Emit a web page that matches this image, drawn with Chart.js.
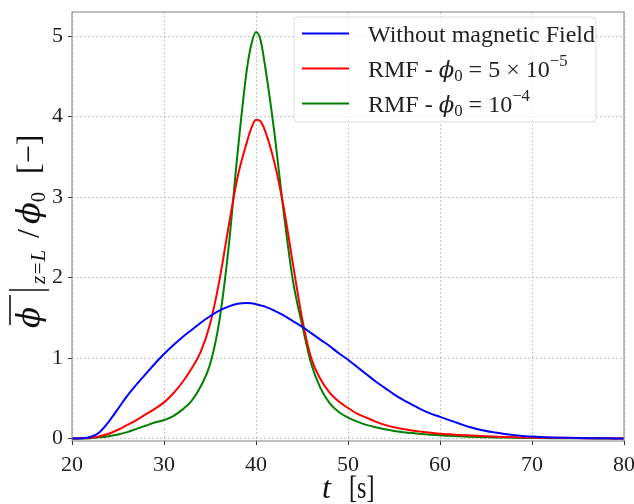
<!DOCTYPE html>
<html>
<head>
<meta charset="utf-8">
<script src="https://cdn.jsdelivr.net/npm/chart.js@4.4.0/dist/chart.umd.min.js"></script>
<style>
  html, body { margin: 0; padding: 0; background: #fff; }
</style>
</head>
<body>
<canvas id="chart" width="634" height="504"></canvas>
<script>
// time axis (s), finer around the peak
const times = [20, 21, 22, 23, 24, 25, 26, 27, 28, 29, 30, 31, 32, 33, 34, 35, 36, 37, 38, 39, 39.5, 40, 40.5,
    41, 42, 43, 44, 45, 46, 47, 48, 49, 50, 51, 52, 53, 54, 55, 56, 57, 58, 59, 60,
    61, 62, 63, 64, 65, 66, 67, 68, 69, 70, 72, 74, 76, 78, 80];

const withoutField = [0, 0.003, 0.02, 0.08, 0.21, 0.37, 0.53, 0.67, 0.8, 0.93, 1.05, 1.16, 1.26, 1.35, 1.44, 1.52, 1.59, 1.64, 1.675, 1.685, 1.682, 1.67, 1.655,
    1.64, 1.59, 1.53, 1.46, 1.39, 1.31, 1.23, 1.15, 1.06, 0.98, 0.89, 0.8, 0.71, 0.63, 0.55, 0.48, 0.42, 0.36, 0.31, 0.27,
    0.23, 0.19, 0.15, 0.12, 0.095, 0.075, 0.057, 0.043, 0.033, 0.025, 0.015, 0.009, 0.005, 0.003, 0.002];

const rmfLow = [0, 0.003, 0.01, 0.03, 0.06, 0.11, 0.17, 0.23, 0.3, 0.37, 0.45, 0.56, 0.7, 0.87, 1.08, 1.42, 1.95, 2.62, 3.25, 3.68, 3.86, 3.96, 3.94,
    3.82, 3.43, 2.88, 2.18, 1.5, 1.0, 0.74, 0.57, 0.46, 0.38, 0.31, 0.26, 0.21, 0.17, 0.14, 0.12, 0.1, 0.085, 0.072, 0.06,
    0.053, 0.046, 0.04, 0.034, 0.029, 0.025, 0.021, 0.018, 0.015, 0.013, 0.009, 0.006, 0.004, 0.003, 0.002];

const rmfHigh = [0, 0.002, 0.005, 0.015, 0.03, 0.05, 0.08, 0.12, 0.16, 0.2, 0.23, 0.28, 0.36, 0.47, 0.65, 0.92, 1.45, 2.35, 3.55, 4.58, 4.9, 5.05, 4.95,
    4.62, 3.8, 2.82, 1.97, 1.42, 0.93, 0.63, 0.44, 0.33, 0.26, 0.21, 0.17, 0.14, 0.115, 0.095, 0.08, 0.068, 0.058, 0.048, 0.04,
    0.034, 0.028, 0.024, 0.02, 0.017, 0.014, 0.012, 0.01, 0.008, 0.007, 0.005, 0.004, 0.003, 0.002, 0.001];

const xTicks = [20, 30, 40, 50, 60, 70, 80];
const yTicks = [0, 1, 2, 3, 4, 5];

const seriesColors = ['#0000ff', '#ff0000', '#008000'];
const seriesLabels = ['Without magnetic Field', 'RMF - ϕ0 = 5 × 10^-5', 'RMF - ϕ0 = 10^-4'];

const SERIF = '"Liberation Serif", "DejaVu Serif", serif';
const GREEK = '"DejaVu Serif", serif';

// legend text pieces (sub- and superscripts)
const legendParts = [
    [{t: 'Without magnetic Field'}],
    [{t: 'RMF - '}, {t: 'ϕ', italic: true, family: GREEK, scale: 0.95}, {t: '0', scale: 0.7, dy: 0.18}, {t: ' = 5 × 10'}, {t: '−5', scale: 0.7, dy: -0.42}],
    [{t: 'RMF - '}, {t: 'ϕ', italic: true, family: GREEK, scale: 0.95}, {t: '0', scale: 0.7, dy: 0.18}, {t: ' = 10'}, {t: '−4', scale: 0.7, dy: -0.42}]
];

function drawRich(ctx, parts, x, y, base) {
    let cx = x;
    parts.forEach(p => {
        const size = base * (p.scale || 1);
        ctx.font = (p.italic ? 'italic ' : '') + size + 'px ' + (p.family || SERIF);
        if (p.at !== undefined) cx = x + p.at;
        ctx.fillText(p.t, cx, y + (p.dy || 0) * base);
        cx += ctx.measureText(p.t).width;
    });
    return cx;
}

const decorations = {
    id: 'decorations',
    afterDraw(chart) {
        const ctx = chart.ctx;
        const area = chart.chartArea;
        ctx.save();

        // frame
        ctx.strokeStyle = '#808080';
        ctx.lineWidth = 1;
        ctx.strokeRect(area.left, area.top, area.right - area.left, area.bottom - area.top);

        // legend box
        const bx = 294, by = 17, bw = 302, bh = 105, r = 4;
        ctx.beginPath();
        ctx.moveTo(bx + r, by);
        ctx.arcTo(bx + bw, by, bx + bw, by + bh, r);
        ctx.arcTo(bx + bw, by + bh, bx, by + bh, r);
        ctx.arcTo(bx, by + bh, bx, by, r);
        ctx.arcTo(bx, by, bx + bw, by, r);
        ctx.closePath();
        ctx.fillStyle = 'rgba(255,255,255,0.8)';
        ctx.fill();
        ctx.strokeStyle = '#dddddd';
        ctx.stroke();

        ctx.textBaseline = 'alphabetic';
        const rows = [33.5, 68.5, 103.5];
        rows.forEach((ry, i) => {
            ctx.strokeStyle = seriesColors[i];
            ctx.lineWidth = 2;
            ctx.beginPath();
            ctx.moveTo(302, ry);
            ctx.lineTo(349, ry);
            ctx.stroke();
            ctx.fillStyle = '#222';
            drawRich(ctx, legendParts[i], 368, ry + 8, 24);
        });

        // x title
        ctx.fillStyle = '#111';
        drawRich(ctx, [{t: 't', italic: true}], 322, 498, 32);
        ctx.save();
        ctx.translate(349, 498);
        ctx.scale(0.78, 1);
        ctx.font = '31px ' + SERIF;
        ctx.fillText('[s]', 0, 0);
        ctx.restore();

        // y title, rotated
        ctx.translate(39, 328);
        ctx.rotate(-Math.PI / 2);
        ctx.font = 'italic 31px ' + GREEK;
        ctx.fillText('ϕ', 0, 0);
        ctx.strokeStyle = '#111';
        ctx.lineWidth = 1.6;
        ctx.beginPath();
        ctx.moveTo(3, -29);
        ctx.lineTo(33, -29);
        ctx.stroke();
        ctx.lineWidth = 1.4;
        ctx.beginPath();
        ctx.moveTo(38, -30);
        ctx.lineTo(38, 10);
        ctx.stroke();
        drawRich(ctx, [
            {t: 'z=L', italic: true, scale: 0.66, dy: 0.2, at: 44},
            {t: '/', at: 90},
            {t: 'ϕ', italic: true, family: GREEK, at: 104},
            {t: '0', scale: 0.65, dy: 0.2},
            {t: '[−]', at: 154}
        ], 0, 0, 32);

        ctx.restore();
    }
};

const datasets = [withoutField, rmfLow, rmfHigh].map((values, i) => ({
    label: seriesLabels[i],
    data: times.map((t, j) => ({x: t, y: values[j]})),
    borderColor: seriesColors[i],
    backgroundColor: seriesColors[i],
    borderWidth: 2,
    pointRadius: 0,
    fill: false,
    cubicInterpolationMode: 'monotone'
}));

new Chart(document.getElementById('chart').getContext('2d'), {
    type: 'line',
    data: { datasets: datasets },
    options: {
        responsive: false,
        animation: false,
        devicePixelRatio: 1,
        layout: { padding: { left: 0, right: 10, top: 12, bottom: 0 } },
        plugins: {
            legend: { display: false },
            tooltip: { enabled: false }
        },
        scales: {
            x: {
                type: 'linear',
                min: 20,
                max: 80,
                afterBuildTicks: axis => { axis.ticks = xTicks.map(v => ({value: v})); },
                afterFit: axis => { axis.height = 63; axis.paddingLeft = 0; axis.paddingRight = 0; },
                ticks: {
                    color: '#222',
                    padding: 7,
                    maxRotation: 0,
                    font: { family: SERIF, size: 22 }
                },
                grid: { color: '#c4c4c4', lineWidth: 1, tickLength: 4, tickColor: '#333' },
                border: { display: false, dash: [2, 2] }
            },
            y: {
                min: -0.03,
                max: 5.3,
                afterBuildTicks: axis => { axis.ticks = yTicks.map(v => ({value: v})); },
                afterFit: axis => { axis.width = 72; axis.paddingTop = 0; axis.paddingBottom = 0; },
                ticks: {
                    color: '#222',
                    padding: 5,
                    font: { family: SERIF, size: 22 }
                },
                grid: { color: '#c4c4c4', lineWidth: 1, tickLength: 4, tickColor: '#333' },
                border: { display: false, dash: [2, 2] }
            }
        }
    },
    plugins: [decorations]
});
</script>
</body>
</html>
